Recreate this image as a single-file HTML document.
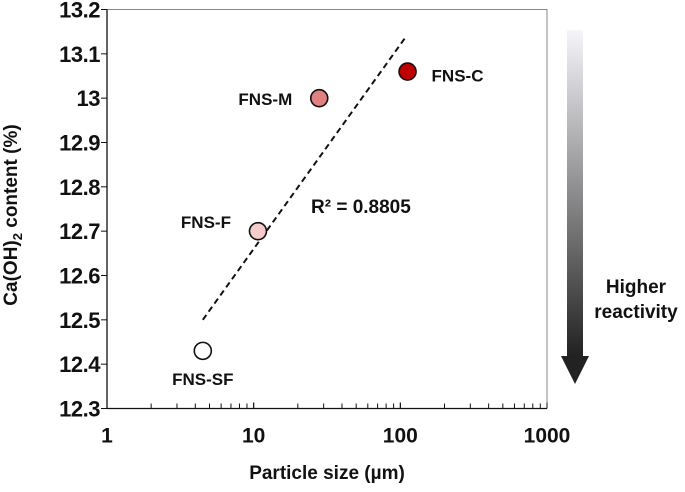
<!DOCTYPE html>
<html><head><meta charset="utf-8"><style>
body{margin:0;background:#fff}
svg text{font-family:"Liberation Sans",Arial,sans-serif;font-weight:bold;fill:#111}
</style></head><body>
<svg id="chart" width="685" height="487" viewBox="0 0 685 487">
<defs><linearGradient id="g" x1="0" y1="0" x2="0" y2="1"><stop offset="0" stop-color="#f6f6fa"/><stop offset="1" stop-color="#222"/></linearGradient></defs>
<g id="axes"></g><g id="marks"></g>
<rect x="567" y="30" width="16" height="326" fill="url(#g)"/>
<polygon points="561,356 589,356 575,384" fill="#222"/>
<text x="636" y="293" font-size="19" text-anchor="middle">Higher</text>
<text x="636" y="318" font-size="19" text-anchor="middle">reactivity</text>
<text x="327" y="479" font-size="19" text-anchor="middle">Particle size (µm)</text>
<text transform="translate(17,215) rotate(-90)" font-size="19" text-anchor="middle">Ca(OH)<tspan font-size="13" dy="5">2</tspan><tspan dy="-5"> content (%)</tspan></text>
<text x="311" y="213" font-size="19">R² = 0.8805</text>
</svg>
<script>
const labels=["FNS-SF","FNS-F","FNS-M","FNS-C"];
const sizes=[4.5,10.7,28,112];
const caoh=[12.43,12.7,13.0,13.06];
const colors=["#ffffff","#f4cccc","#e08080","#c00000"];
const yTicks=[12.3,12.4,12.5,12.6,12.7,12.8,12.9,13,13.1,13.2];
const xTicks=[1,10,100,1000];
const trendX=[4.5,110];
const trendY=[12.5,13.14];
const L=107,R=547,T=9.5,B=408.5;
const X=v=>L+(Math.log10(v)-0)/3*(R-L);
const Y=v=>B-(v-12.3)/0.9*(B-T);
const ns="http://www.w3.org/2000/svg";
const ax=document.getElementById('axes'),mk=document.getElementById('marks');
function el(t,a,p){const e=document.createElementNS(ns,t);for(const k in a)e.setAttribute(k,a[k]);p.appendChild(e);return e;}
const frame=el('path',{d:`M${L},${T}H${R}V${B}`,fill:'none',stroke:'#888','stroke-width':1},ax);


const xa=el('line',{x1:L,y1:B,x2:R,y2:B,stroke:'#111','stroke-width':1.3},ax);


const ya=el('line',{x1:L,y1:T,x2:L,y2:B,stroke:'#111','stroke-width':1.3},ax);


yTicks.forEach(v=>{
 el('line',{x1:L-6,y1:Y(v),x2:L,y2:Y(v),stroke:'#111'},ax);
 const t=el('text',{x:L-7,y:Y(v)+8,'font-size':22,'text-anchor':'end','letter-spacing':'-0.5'},ax);t.textContent=v;
 
 
});
for(let d=0;d<3;d++)for(let m=1;m<=10;m++){const v=Math.pow(10,d)*m;const big=m===1||m===10;
 el('line',{x1:X(v),y1:B,x2:X(v),y2:B-(big?6:5),stroke:'#111'},ax);}
xTicks.forEach(v=>{const t=el('text',{x:X(v),y:B+34,'font-size':21,'text-anchor':'middle'},ax);t.textContent=v;
 
 });
const tl=el('line',{x1:X(trendX[0]),y1:Y(trendY[0]),x2:X(trendX[1]),y2:Y(trendY[1]),stroke:'#111','stroke-width':2,'stroke-dasharray':'6,4'},mk);


const off=[[0,34,'middle'],[-27,-3,'end'],[-27,7,'end'],[24,10,'start']];
labels.forEach((n,i)=>{
 const c=el('circle',{cx:X(sizes[i]),cy:Y(caoh[i]),r:8.5,fill:colors[i],stroke:'#111','stroke-width':1.6},mk);
 
 
 const t=el('text',{x:X(sizes[i])+off[i][0],y:Y(caoh[i])+off[i][1],'font-size':17,'text-anchor':off[i][2]},mk);t.textContent=n;
 
 
});
</script>
</body></html>
